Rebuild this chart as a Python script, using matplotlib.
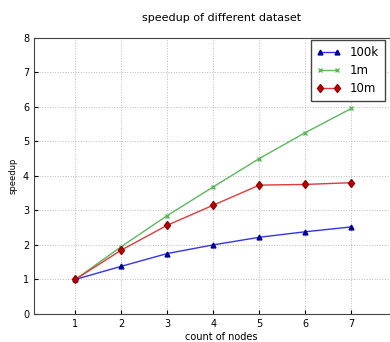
import matplotlib
matplotlib.use('Agg')
import matplotlib.pyplot as plt

nodes = [1, 2, 3, 4, 5, 6, 7]
s100k = [1.0, 1.38, 1.75, 2.0, 2.22, 2.38, 2.52]
s1m = [1.0, 1.95, 2.85, 3.68, 4.5, 5.25, 5.95]
s10m = [1.0, 1.85, 2.57, 3.15, 3.73, 3.75, 3.8]

fig = plt.figure(figsize=(3.9, 3.42), dpi=100)
# axes run past the right edge of the figure, as in the cropped original
ax = fig.add_axes([0.087, 0.082, 0.96, 0.808])

ax.plot(nodes, s100k, color='#3333ee', marker='^', markersize=3.5, linewidth=1,
        markeredgecolor='#000099', markerfacecolor='#000099', label='100k')
ax.plot(nodes, s1m, color='#5cb85c', marker='x', markersize=3, linewidth=1, label='1m')
ax.plot(nodes, s10m, color='#e03a3a', marker='d', markersize=4.5, linewidth=1,
        markeredgecolor='#990000', markerfacecolor='#bb0000', label='10m')

ax.set_xlim(0.1, 0.1 + 0.96 * 390 / 46)
ax.set_ylim(0, 8)
ax.set_xticks(nodes)
ax.set_yticks(range(0, 9))
ax.tick_params(direction='in', labelsize=7, length=3)
ax.grid(True, linestyle=':', color='#bbbbbb', linewidth=0.7)
for s in ax.spines.values():
    s.set_color('#444444')

ax.set_xlabel('count of nodes', fontsize=7, labelpad=2)
ax.set_ylabel('speedup', fontsize=6, labelpad=4)
ax.set_title('speedup of different dataset', fontsize=8, pad=12)

leg = ax.legend(loc='upper left', bbox_to_anchor=(0.74, 0.99), fontsize=8.5,
                numpoints=2, fancybox=False, framealpha=1, edgecolor='#444444',
                handlelength=2.0, labelspacing=0.4, borderpad=0.5,
                borderaxespad=0)

fig.savefig('out.png', dpi=100)
